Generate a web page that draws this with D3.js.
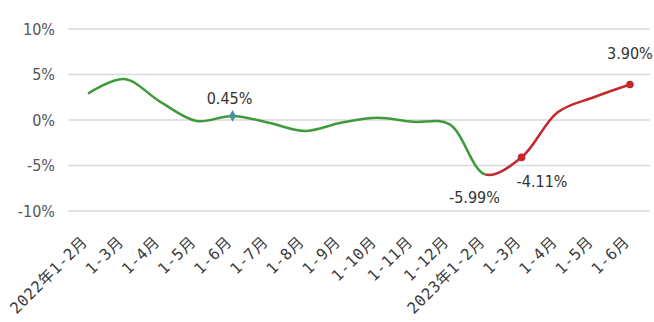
<!DOCTYPE html>
<html>
<head>
<meta charset="utf-8">
<script src="https://cdn.jsdelivr.net/npm/d3@7"></script>
<style>
  html, body { margin: 0; padding: 0; background: #fff; }
  svg { display: block; }
  text { font-family: "DejaVu Sans Condensed", "Noto Sans CJK SC", sans-serif; }
  .xlab { font-family: "DejaVu Sans Mono", "Noto Sans CJK SC", monospace; }
</style>
</head>
<body>
<svg id="chart" width="654" height="322"></svg>
<script>
// Cumulative year-on-year growth by reporting period
const categories = [
  "2022年1-2月", "1-3月", "1-4月", "1-5月", "1-6月", "1-7月", "1-8月", "1-9月",
  "1-10月", "1-11月", "1-12月",
  "2023年1-2月", "1-3月", "1-4月", "1-5月", "1-6月"
];
const growth = [2.9, 4.5, 2.0, -0.1, 0.45, -0.3, -1.2, -0.3, 0.25, -0.2, -0.45,
                -5.99, -4.11, 0.85, 2.5, 3.90];
const yTicks = [10, 5, 0, -5, -10];
// Points carrying a value label and where the text sits
const labelled = [
  { i: 4, dx: -3, dy: -12, anchor: "middle" },
  { i: 11, dx: -11, dy: 28, anchor: "middle" },
  { i: 12, dx: -5, dy: 30, anchor: "start" },
  { i: 15, dx: 0, dy: -26, anchor: "middle" }
];
const splitIndex = 11; // first period drawn in red

const width = 654, height = 322;
const margin = { left: 70, right: 6, top: 29, bottom: 111 };

const svg = d3.select("#chart");

const x = d3.scalePoint()
  .domain(d3.range(categories.length))
  .range([margin.left, width - margin.right])
  .padding(0.5);

const y = d3.scaleLinear()
  .domain([-10, 10])
  .range([height - margin.bottom, margin.top]);

// Horizontal gridlines
svg.append("g")
  .selectAll("line")
  .data(yTicks)
  .join("line")
  .attr("x1", margin.left - 2)
  .attr("x2", width - 4)
  .attr("y1", d => y(d))
  .attr("y2", d => y(d))
  .attr("stroke", "#d9d9d9")
  .attr("stroke-width", 1.5);

// Y axis labels
const yAxis = d3.axisLeft(y).tickValues(yTicks).tickSize(0).tickPadding(0)
  .tickFormat(d => d + "%");
svg.append("g")
  .attr("transform", `translate(${margin.left - 15},0)`)
  .call(yAxis)
  .call(g => g.select(".domain").remove())
  .call(g => g.selectAll("text")
    .attr("fill", "#555")
    .attr("font-family", null)
    .attr("font-size", 16));

// X axis labels, rotated
const xAxis = d3.axisBottom(x).tickSize(0).tickFormat(i => categories[i]);
svg.append("g")
  .attr("transform", `translate(0,${y(-10)})`)
  .call(xAxis)
  .call(g => g.select(".domain").remove())
  .call(g => g.selectAll("text")
    .attr("class", "xlab")
    .attr("font-family", null)
    .attr("fill", "#3a3a3a")
    .attr("font-size", 15.5)
    .attr("letter-spacing", 0.6)
    .attr("text-anchor", "end")
    .attr("x", 0)
    .attr("y", 0)
    .attr("dy", "0.35em")
    .attr("transform", "translate(-4,28) rotate(-45)"));

// Smoothed line, coloured green before the split and red after
const line = d3.line()
  .x((d, i) => x(i))
  .y(d => y(d))
  .curve(d3.curveCatmullRom.alpha(0.5));

const defs = svg.append("defs");
defs.append("clipPath").attr("id", "clipGreen")
  .append("rect")
  .attr("x", 0).attr("y", 0)
  .attr("width", x(splitIndex)).attr("height", height);
defs.append("clipPath").attr("id", "clipRed")
  .append("rect")
  .attr("x", x(splitIndex)).attr("y", 0)
  .attr("width", width - x(splitIndex)).attr("height", height);

svg.append("path")
  .datum(growth)
  .attr("d", line)
  .attr("fill", "none")
  .attr("stroke", "#3f9a3c")
  .attr("stroke-width", 2.5)
  .attr("clip-path", "url(#clipGreen)");

svg.append("path")
  .datum(growth)
  .attr("d", line)
  .attr("fill", "none")
  .attr("stroke", "#c4282b")
  .attr("stroke-width", 2.5)
  .attr("clip-path", "url(#clipRed)");

// Markers
svg.append("path")
  .attr("d", d3.symbol(d3.symbolDiamond, 40)())
  .attr("transform", `translate(${x(4)},${y(growth[4])})`)
  .attr("fill", "#4a90a0");

svg.append("g")
  .selectAll("circle")
  .data([12, 15])
  .join("circle")
  .attr("cx", i => x(i))
  .attr("cy", i => y(growth[i]))
  .attr("r", 3.8)
  .attr("fill", "#c4282b");

// Value labels
svg.append("g")
  .selectAll("text")
  .data(labelled)
  .join("text")
  .attr("x", d => x(d.i) + d.dx)
  .attr("y", d => y(growth[d.i]) + d.dy)
  .attr("text-anchor", d => d.anchor)
  .attr("fill", "#333")
  .attr("font-size", 16)
  .text(d => growth[d.i].toFixed(2) + "%");
</script>
</body>
</html>
